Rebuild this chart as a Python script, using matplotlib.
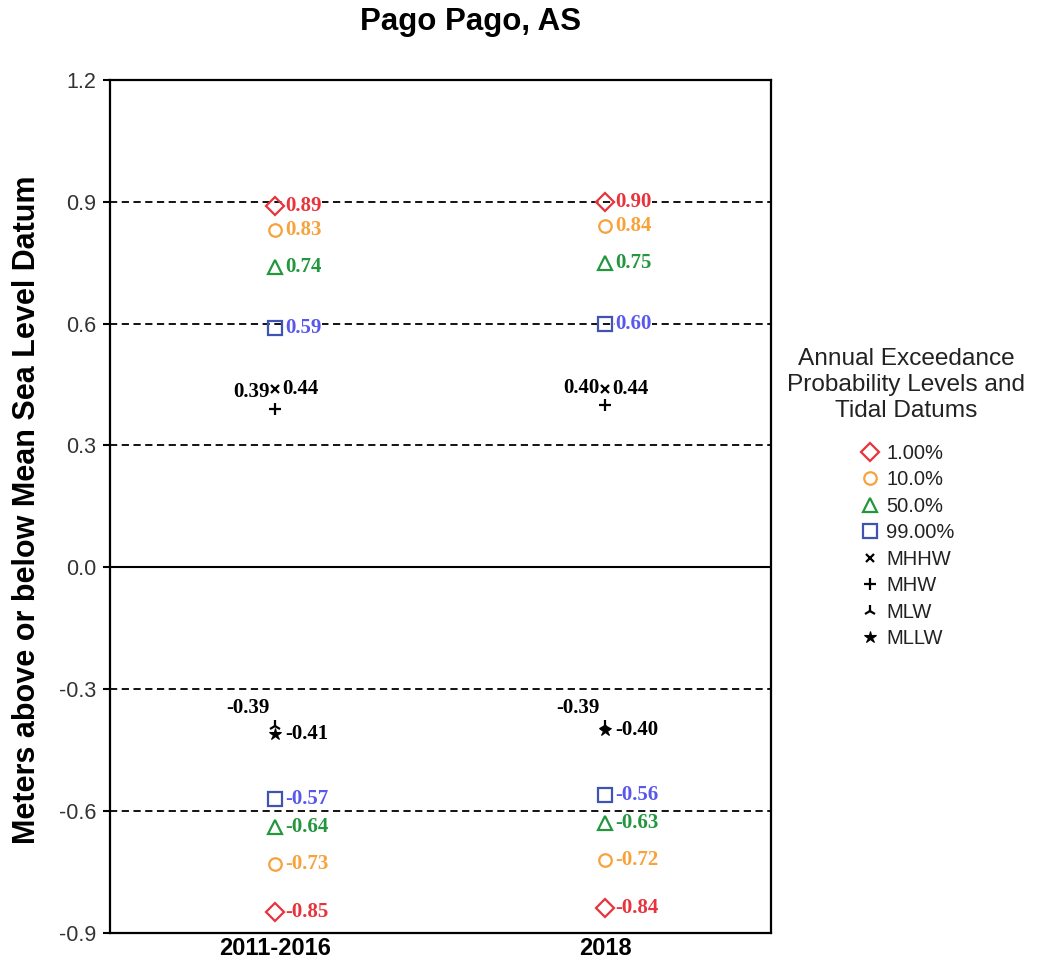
import matplotlib
matplotlib.use('Agg')
import matplotlib.pyplot as plt
import numpy as np

# Data
periods = ['2011-2016', '2018']
aep_1_high = [0.89, 0.90]
aep_1_low = [-0.85, -0.84]
aep_10_high = [0.83, 0.84]
aep_10_low = [-0.73, -0.72]
aep_50_high = [0.74, 0.75]
aep_50_low = [-0.64, -0.63]
aep_99_high = [0.59, 0.60]
aep_99_low = [-0.57, -0.56]
mhhw = [0.44, 0.44]
mhw = [0.39, 0.40]
mlw = [-0.39, -0.39]
mllw = [-0.41, -0.40]
y_ticks = [-0.9, -0.6, -0.3, 0.0, 0.3, 0.6, 0.9, 1.2]

red = '#E8323C'
orange = '#F7A23B'
green = '#24963E'
blue = '#3F53B0'
blue_txt = '#5858EE'

sans = 'Liberation Sans'
serif = 'Liberation Serif'

fig = plt.figure(figsize=(10.4, 9.65), dpi=100)
ax = fig.add_axes([0.1058, 0.0335, 0.741 - 0.1058, 0.917 - 0.0335])

x = np.arange(len(periods))

# grid lines
for t in y_ticks[1:-1]:
    if t == 0.0:
        ax.axhline(t, color='black', lw=1.5, zorder=1)
    else:
        ax.axhline(t, color='black', lw=1.3, ls=(0, (4, 2.5)), zorder=1)


def label(xv, yv, txt, color, dx=7, dy=0, ha='left'):
    ax.annotate(txt, (xv, yv), xytext=(dx, dy), textcoords='offset points',
                ha=ha, va='center', color=color, fontsize=15, fontweight='bold',
                family=serif, zorder=3,
                bbox=dict(facecolor='white', edgecolor='none', pad=0.3))


series = [
    (aep_1_high, aep_1_low, 'D', 9, red, red, '1.00%'),
    (aep_10_high, aep_10_low, 'o', 9, orange, orange, '10.0%'),
    (aep_50_high, aep_50_low, '^', 9.5, green, green, '50.0%'),
    (aep_99_high, aep_99_low, 's', 9.5, blue, blue_txt, '99.00%'),
]
handles = []
for hi, lo, mk, ms, col, tcol, name in series:
    h, = ax.plot(x, hi, ls='none', marker=mk, ms=ms, mfc='none', mec=col, mew=1.6,
                 zorder=4, label=name)
    ax.plot(x, lo, ls='none', marker=mk, ms=ms, mfc='none', mec=col, mew=1.6, zorder=4)
    handles.append(h)
    for xi, v in zip(x, hi):
        label(xi, v, f'{v:.2f}', tcol)
    for xi, v in zip(x, lo):
        label(xi, v, f'{v:.2f}', tcol)

h1, = ax.plot(x, mhhw, ls='none', marker='x', ms=6, mec='black', mew=1.6, zorder=4, label='MHHW')
h2, = ax.plot(x, mhw, ls='none', marker='+', ms=9, mec='black', mew=1.6, zorder=4, label='MHW')
h3, = ax.plot(x, mlw, ls='none', marker='2', ms=9, mec='black', mew=1.6, zorder=4, label='MLW')
h4, = ax.plot(x, mllw, ls='none', marker='*', ms=9, mfc='black', mec='black', mew=0.8, zorder=4, label='MLLW')
handles += [h1, h2, h3, h4]

for xi in x:
    label(xi, mhhw[xi], f'{mhhw[xi]:.2f}', 'black', dx=5)
    label(xi, mhw[xi], f'{mhw[xi]:.2f}', 'black', dx=-4, dy=12, ha='right')
    label(xi, mlw[xi], f'{mlw[xi]:.2f}', 'black', dx=-4, dy=13, ha='right')
    label(xi, mllw[xi], f'{mllw[xi]:.2f}', 'black')

ax.set_xlim(-0.5, 1.5)
ax.set_ylim(-0.9, 1.2)
ax.set_yticks(y_ticks)
ax.set_yticklabels([f'{t:.1f}' for t in y_ticks], family=sans, fontsize=15.5, color='#333333')
ax.set_xticks(x)
ax.set_xticklabels(periods, family=sans, fontsize=17, fontweight='bold')
ax.tick_params(axis='y', length=5, width=1.5, pad=5)
ax.tick_params(axis='x', length=0, pad=3)
for s in ax.spines.values():
    s.set_linewidth(1.6)

fig.text(471 / 1040, 1 - 22 / 965, 'Pago Pago, AS', ha='center', va='center',
         family=sans, fontsize=22.5, fontweight='bold')
fig.text(27 / 1040, 1 - 510 / 965, 'Meters above or below Mean Sea Level Datum',
         rotation=90, ha='center', va='center', family=sans, fontsize=22, fontweight='bold')

# legend title drawn separately so its spacing can match
fig.text(906 / 1040, 1 - 385 / 965, 'Annual Exceedance\nProbability Levels and\nTidal Datums',
         ha='center', va='center', multialignment='center', family=sans, fontsize=17.6,
         linespacing=1.23, color='#222222')

leg = fig.legend(handles=handles, loc='upper left', bbox_to_anchor=(860 / 1040, 1 - 444 / 965),
                 frameon=False, prop={'family': sans, 'size': 14.5}, handlelength=1.0,
                 handletextpad=0.3, labelspacing=0.37, borderpad=0, borderaxespad=0)
for t in leg.get_texts():
    t.set_color('#222222')

fig.savefig('out.png', dpi=100)
